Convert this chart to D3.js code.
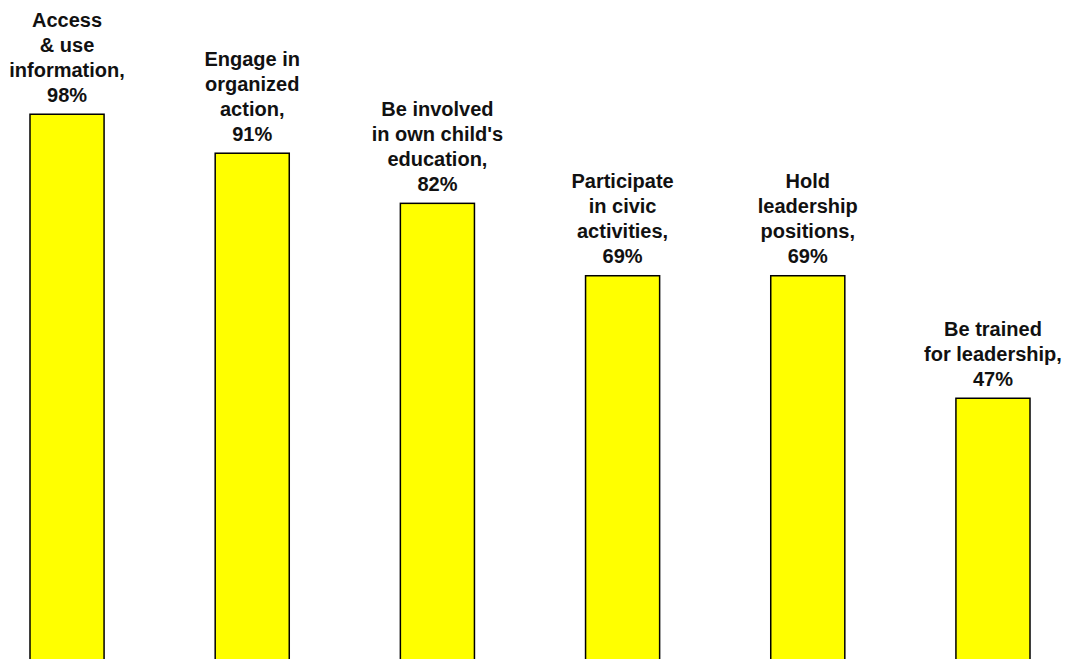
<!DOCTYPE html>
<html>
<head>
<meta charset="utf-8">
<script src="https://cdn.jsdelivr.net/npm/d3@7"></script>
<style>
  html, body { margin: 0; padding: 0; background: #fff; }
  svg { display: block; }
</style>
</head>
<body>
<svg id="chart" width="1065" height="659"></svg>
<script>
const categories = [
  "Access & use information",
  "Engage in organized action",
  "Be involved in own child's education",
  "Participate in civic activities",
  "Hold leadership positions",
  "Be trained for leadership"
];
const labelLines = [
  ["Access", "& use", "information,"],
  ["Engage in", "organized", "action,"],
  ["Be involved", "in own child's", "education,"],
  ["Participate", "in civic", "activities,"],
  ["Hold", "leadership", "positions,"],
  ["Be trained", "for leadership,"]
];
const values = [98, 91, 82, 69, 69, 47];

const svg = d3.select("#chart");

const x = d3.scaleBand()
  .domain(categories)
  .range([30, 1030])
  .paddingInner(0.6)
  .paddingOuter(0);

const y = d3.scaleLinear()
  .domain([0, 100])
  .range([660, 103.1]);

const data = categories.map((c, i) => ({ cat: c, value: values[i], lines: labelLines[i].concat([values[i] + "%"]) }));

svg.selectAll("rect.bar")
  .data(data)
  .join("rect")
  .attr("class", "bar")
  .attr("x", d => x(d.cat))
  .attr("y", d => y(d.value))
  .attr("width", x.bandwidth())
  .attr("height", d => y(0) - y(d.value) + 5)
  .attr("fill", "#FFFF00")
  .attr("stroke", "#000")
  .attr("stroke-width", 1.5);

const lineH = 25;
const labels = svg.selectAll("text.lbl")
  .data(data)
  .join("text")
  .attr("class", "lbl")
  .attr("text-anchor", "middle")
  .attr("font-family", "Liberation Sans, Arial, sans-serif")
  .attr("font-weight", "bold")
  .attr("font-size", 20)
  .attr("fill", "#111");

labels.each(function(d) {
  const n = d.lines.length;
  const cx = x(d.cat) + x.bandwidth() / 2;
  const base = y(d.value) - 12.5;
  d3.select(this).selectAll("tspan")
    .data(d.lines)
    .join("tspan")
    .attr("x", cx)
    .attr("y", (l, i) => base - (n - 1 - i) * lineH)
    .text(l => l);
});
</script>
</body>
</html>
